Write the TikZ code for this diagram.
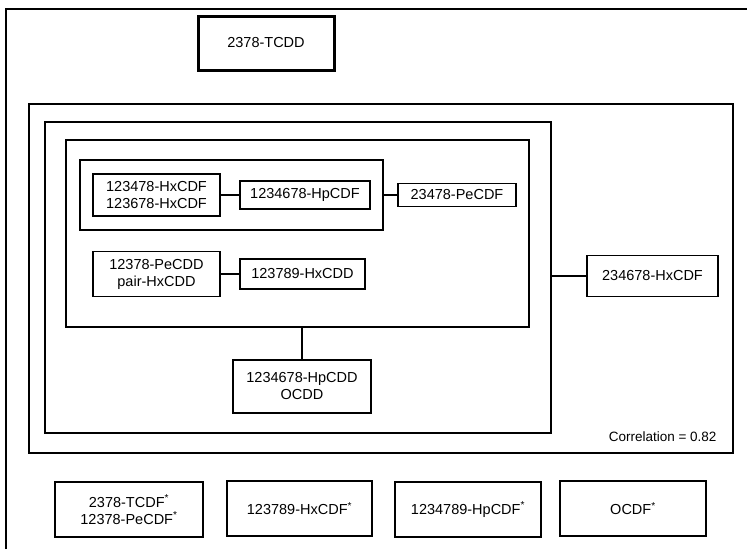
\documentclass[tikz,border=0pt]{standalone}
\usepackage{fontspec}
\setmainfont{Liberation Sans}
\usepackage{tikz}
\usetikzlibrary{positioning}

\begin{document}
\begin{tikzpicture}[
    x=1pt, y=-1pt,
    font=\fontsize{14.5}{17}\selectfont,
    cong/.style={draw, line width=1.1pt, inner sep=0pt, outer sep=0pt, align=center},
    group/.style={draw, line width=1.1pt, inner sep=0pt, outer sep=0pt},
    strong/.style={draw, line width=2.6pt, inner sep=0pt, outer sep=0pt, align=center},
    link/.style={line width=1.1pt},
]
\useasboundingbox (0,0) rectangle (747,549);

% page frame (cut off at right and bottom)
\draw[line width=1.4pt] (6,549) -- (6,9) -- (747,9);

% --- top congener ---
\node[strong, line width=3pt, minimum width=136pt, minimum height=54pt] (tcdd) at (266,43) {2378-TCDD};

% --- nested clusters ---
\node[group, line width=2.6pt, minimum width=704pt, minimum height=349pt] (clA) at (381,278.5) {};
\node[group, minimum width=506pt, minimum height=311pt] (clB) at (298,277.5) {};
\node[group, minimum width=463pt, minimum height=187pt] (clC) at (297.5,233.5) {};
\node[group, minimum width=303pt, minimum height=70pt] (clD) at (231.5,195) {};

% furans
\node[cong, minimum width=127pt, minimum height=42pt] (hxcdfA) at (156.5,195) {123478-HxCDF\\123678-HxCDF};
\node[cong, minimum width=130pt, minimum height=28pt] (hpcdf) at (305,195) {1234678-HpCDF};
\node[cong, minimum width=118pt, minimum height=23pt] (pecdf) at (457,195) {23478-PeCDF};
\draw[link] (hxcdfA) -- (hpcdf);
\draw[link] (clD) -- (pecdf);

% dioxins
\node[cong, minimum width=127pt, minimum height=45pt] (pecdd) at (156.5,274) {12378-PeCDD\\pair-HxCDD};
\node[cong, minimum width=125pt, minimum height=30pt] (hxcdd) at (302.5,274) {123789-HxCDD};
\draw[link] (pecdd) -- (hxcdd);

\node[cong, minimum width=138pt, minimum height=53pt] (hpcdd) at (302,386.5) {1234678-HpCDD\\OCDD};
\draw[link] (hpcdd.north) -- (hpcdd.north |- clC.south);

\node[cong, minimum width=131pt, minimum height=41pt] (hxcdfB) at (652.5,276) {234678-HxCDF};
\draw[link] (hxcdfB.west) -- (hxcdfB.west -| clB.east);

\node[anchor=east, font=\fontsize{13.5}{16}\selectfont] (corr) at (720,437) {Correlation = 0.82};

% --- unclustered congeners ---
\node[strong, minimum width=148pt, minimum height=55pt] (b1) at (129,509.5) {2378-TCDF\textsuperscript{*}\\12378-PeCDF\textsuperscript{*}};
\node[strong, minimum width=145pt, minimum height=55pt] (b2) at (299.5,508.5) {123789-HxCDF\textsuperscript{*}};
\node[strong, minimum width=146pt, minimum height=55pt] (b3) at (468,509.5) {1234789-HpCDF\textsuperscript{*}};
\node[strong, minimum width=146pt, minimum height=55pt] (b4) at (633,508.5) {OCDF\textsuperscript{*}};

\end{tikzpicture}
\end{document}
